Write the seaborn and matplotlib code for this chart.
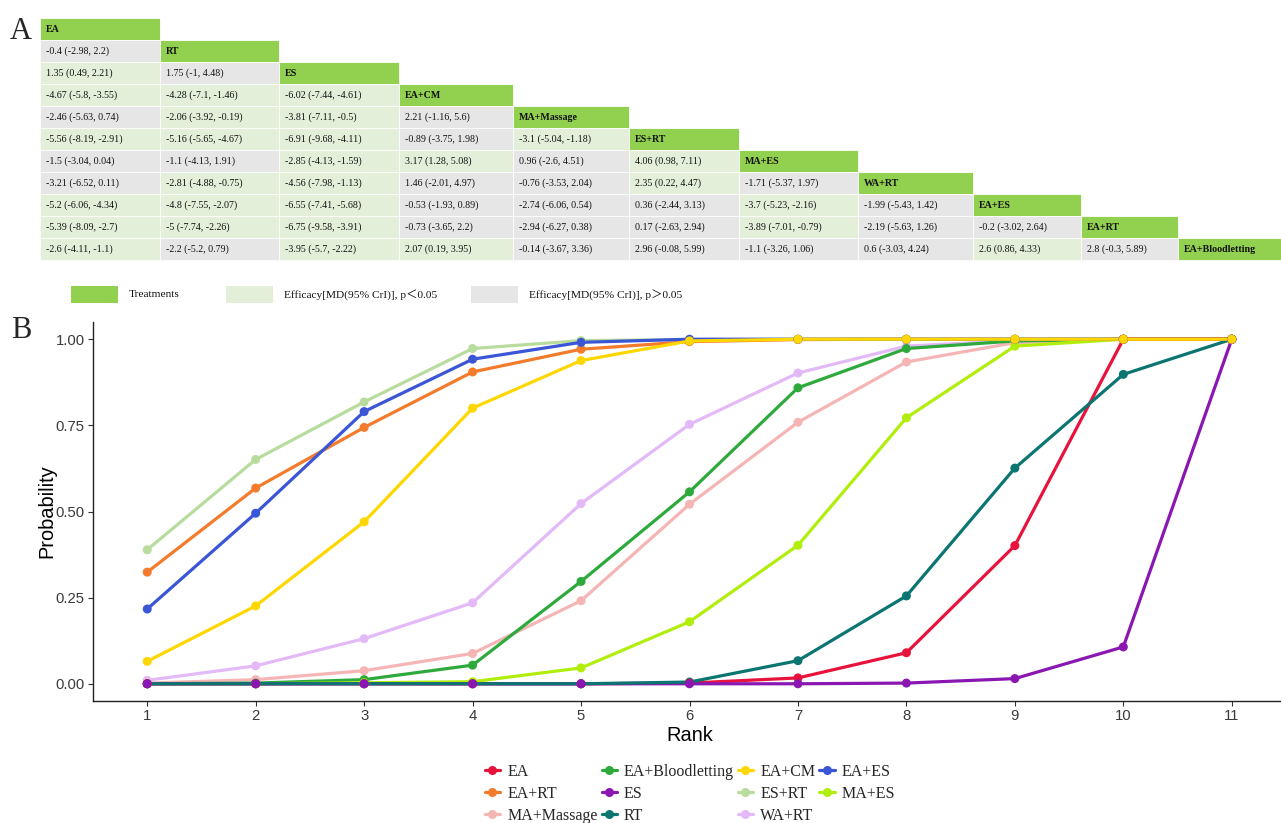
import matplotlib
matplotlib.use("Agg")
import matplotlib.pyplot as plt
from matplotlib.patches import Rectangle
from matplotlib.lines import Line2D
import numpy as np
import pandas as pd
import seaborn as sns

# ---------------- Panel A: league table ----------------
league_treatments = ["EA", "RT", "ES", "EA+CM", "MA+Massage", "ES+RT",
                     "MA+ES", "WA+RT", "EA+ES", "EA+RT", "EA+Bloodletting"]

# mean difference (row vs column), lower triangle
md_est = [
    [],
    [-0.4],
    [1.35, 1.75],
    [-4.67, -4.28, -6.02],
    [-2.46, -2.06, -3.81, 2.21],
    [-5.56, -5.16, -6.91, -0.89, -3.1],
    [-1.5, -1.1, -2.85, 3.17, 0.96, 4.06],
    [-3.21, -2.81, -4.56, 1.46, -0.76, 2.35, -1.71],
    [-5.2, -4.8, -6.55, -0.53, -2.74, 0.36, -3.7, -1.99],
    [-5.39, -5, -6.75, -0.73, -2.94, 0.17, -3.89, -2.19, -0.2],
    [-2.6, -2.2, -3.95, 2.07, -0.14, 2.96, -1.1, 0.6, 2.6, 2.8],
]
md_low = [
    [],
    [-2.98],
    [0.49, -1],
    [-5.8, -7.1, -7.44],
    [-5.63, -3.92, -7.11, -1.16],
    [-8.19, -5.65, -9.68, -3.75, -5.04],
    [-3.04, -4.13, -4.13, 1.28, -2.6, 0.98],
    [-6.52, -4.88, -7.98, -2.01, -3.53, 0.22, -5.37],
    [-6.06, -7.55, -7.41, -1.93, -6.06, -2.44, -5.23, -5.43],
    [-8.09, -7.74, -9.58, -3.65, -6.27, -2.63, -7.01, -5.63, -3.02],
    [-4.11, -5.2, -5.7, 0.19, -3.67, -0.08, -3.26, -3.03, 0.86, -0.3],
]
md_high = [
    [],
    [2.2],
    [2.21, 4.48],
    [-3.55, -1.46, -4.61],
    [0.74, -0.19, -0.5, 5.6],
    [-2.91, -4.67, -4.11, 1.98, -1.18],
    [0.04, 1.91, -1.59, 5.08, 4.51, 7.11],
    [0.11, -0.75, -1.13, 4.97, 2.04, 4.47, 1.97],
    [-4.34, -2.07, -5.68, 0.89, 0.54, 3.13, -2.16, 1.42],
    [-2.7, -2.26, -3.91, 2.2, 0.38, 2.94, -0.79, 1.26, 2.64],
    [-1.1, 0.79, -2.22, 3.95, 3.36, 5.99, 1.06, 4.24, 4.33, 5.89],
]

table_legend_labels = ["Treatments",
                       "Efficacy[MD(95% CrI)], p\uff1c0.05",
                       "Efficacy[MD(95% CrI)], p\uff1e0.05"]

# ---------------- Panel B: cumulative ranking probabilities ----------------
ranks = list(range(1, 12))
rank_prob = {
    "EA":              [0, 0, 0, 0, 0, 0.002, 0.017, 0.090, 0.401, 1.0, 1.0],
    "EA+Bloodletting": [0, 0.002, 0.012, 0.054, 0.297, 0.557, 0.859, 0.973, 0.995, 1.0, 1.0],
    "EA+CM":           [0.065, 0.226, 0.470, 0.800, 0.938, 0.995, 1.0, 1.0, 1.0, 1.0, 1.0],
    "EA+ES":           [0.217, 0.495, 0.790, 0.942, 0.991, 1.0, 1.0, 1.0, 1.0, 1.0, 1.0],
    "EA+RT":           [0.324, 0.568, 0.744, 0.905, 0.971, 0.993, 0.999, 1.0, 1.0, 1.0, 1.0],
    "ES":              [0, 0, 0, 0, 0, 0, 0, 0.002, 0.015, 0.107, 1.0],
    "ES+RT":           [0.389, 0.651, 0.818, 0.973, 0.996, 0.999, 1.0, 1.0, 1.0, 1.0, 1.0],
    "MA+ES":           [0, 0, 0.003, 0.006, 0.046, 0.180, 0.402, 0.772, 0.980, 1.0, 1.0],
    "MA+Massage":      [0.002, 0.012, 0.038, 0.088, 0.241, 0.521, 0.759, 0.934, 0.990, 1.0, 1.0],
    "RT":              [0, 0, 0, 0, 0, 0.005, 0.067, 0.255, 0.626, 0.898, 1.0],
    "WA+RT":           [0.010, 0.052, 0.131, 0.235, 0.523, 0.753, 0.902, 0.980, 0.996, 1.0, 1.0],
}
palette = {
    "EA": "#E8133C", "EA+Bloodletting": "#2EAA3C", "EA+CM": "#FFD700",
    "EA+ES": "#3A56D6", "EA+RT": "#F37B2B", "ES": "#8A17B2",
    "ES+RT": "#B8DC9E", "MA+ES": "#B2EE0C", "MA+Massage": "#F6B5B5",
    "RT": "#0B7572", "WA+RT": "#E3B9F7",
}

# ---------------- figure ----------------
sns.set_theme(style="ticks")
plt.rcParams["font.family"] = ["Liberation Sans", "DejaVu Sans"]
SERIF = ["Liberation Serif", "Noto Sans CJK SC", "DejaVu Serif"]

W, H = 1281, 823
fig = plt.figure(figsize=(W / 100, H / 100), dpi=100)

# pixel-space canvas for the league table
tab = fig.add_axes([0, 0, 1, 1])
tab.set_xlim(0, W)
tab.set_ylim(H, 0)
tab.axis("off")

HEAD = "#92D050"
SIG = "#E3EFD9"
NONSIG = "#E6E6E6"
col_edges = [40, 160, 279, 399, 513, 629, 739, 858, 973, 1081, 1178, 1281]
row_top, row_h = 18, 22

for i, name in enumerate(league_treatments):
    y0 = row_top + i * row_h
    yc = y0 + row_h / 2
    for j in range(i + 1):
        x0, x1 = col_edges[j], col_edges[j + 1]
        if j == i:
            fc = HEAD
            label = name
            weight = "bold"
        else:
            est, lo, hi = md_est[i][j], md_low[i][j], md_high[i][j]
            fc = SIG if lo * hi > 0 else NONSIG
            label = f"{est:g} ({lo:g}, {hi:g})"
            weight = "normal"
        tab.add_patch(Rectangle((x0, y0), x1 - x0, row_h, facecolor=fc,
                                edgecolor="white", linewidth=0.6))
        tab.text(x0 + 6, yc + 0.5, label, ha="left", va="center",
                 fontsize=7.2, family=SERIF, weight=weight, color="#111111")

# table key
key_boxes = [(71, HEAD), (226, SIG), (471, NONSIG)]
for (bx, fc), lab in zip(key_boxes, table_legend_labels):
    tab.add_patch(Rectangle((bx, 286), 47, 17, facecolor=fc, edgecolor="none"))
    tab.text(bx + 58, 294.5, lab, ha="left", va="center", fontsize=8.2,
             family=SERIF, color="#111111")

fig.text(10 / W, 1 - 39 / H, "A", family=SERIF, fontsize=22, ha="left",
         va="baseline")
fig.text(11 / W, 1 - 338 / H, "B", family=SERIF, fontsize=22, ha="left",
         va="baseline")

# ---------------- rank probability panel ----------------
ax = fig.add_axes([93 / W, 1 - 701 / H, 1193 / W, 379 / H])

long_rows = []
for trt, vals in rank_prob.items():
    for r, p in zip(ranks, vals):
        long_rows.append({"Treatment": trt, "Rank": r, "Probability": p})
df = pd.DataFrame(long_rows)

legend_order = sorted(rank_prob.keys())
line_order = ["WA+RT", "ES+RT", "MA+Massage", "EA+Bloodletting", "MA+ES",
              "EA+RT", "EA+ES", "EA", "ES", "RT", "EA+CM"]
point_order = ["WA+RT", "ES+RT", "MA+Massage", "EA+Bloodletting", "MA+ES",
               "EA+RT", "EA+ES", "RT", "EA", "ES", "EA+CM"]

for trt in line_order:
    sub = df[df["Treatment"] == trt]
    sns.lineplot(data=sub, x="Rank", y="Probability", color=palette[trt],
                 linewidth=2.3, estimator=None, sort=False, ax=ax,
                 legend=False, zorder=2)

pts = pd.concat([df[df["Treatment"] == t] for t in point_order])
sns.scatterplot(data=pts, x="Rank", y="Probability", hue="Treatment",
                hue_order=legend_order, palette=palette, s=42, linewidth=0,
                legend=False, ax=ax, zorder=3)

ax.set_xlim(0.5, 11.5)
ax.set_ylim(-0.05, 1.05)
ax.set_xticks(ranks)
ax.set_yticks([0, 0.25, 0.5, 0.75, 1.0])
ax.set_yticklabels(["0.00", "0.25", "0.50", "0.75", "1.00"])
for s in ("top", "right"):
    ax.spines[s].set_visible(False)
for s in ("left", "bottom"):
    ax.spines[s].set_color("#222222")
    ax.spines[s].set_linewidth(1.0)
ax.tick_params(axis="both", length=3.5, width=0.8, color="#333333",
               labelsize=10.7, labelcolor="#3A3A3A", pad=2.5)
ax.set_xlabel("Rank", fontsize=14.4, color="black", labelpad=2)
ax.set_ylabel("Probability", fontsize=14.4, color="black", labelpad=-1)

# legend filled row by row in alphabetical order
ncol = 4
nrow = int(np.ceil(len(legend_order) / ncol))
grid = [legend_order[r * ncol:(r + 1) * ncol] for r in range(nrow)]
col_major = []
for c in range(ncol):
    for r in range(nrow):
        if c < len(grid[r]):
            col_major.append(grid[r][c])
handles = [Line2D([0], [0], color=palette[t], lw=2.3, marker="o",
                  markersize=6.5, markeredgewidth=0) for t in col_major]
fig.legend(handles, col_major, loc="upper center", ncol=ncol,
           bbox_to_anchor=(690 / W, 1 - 764 / H), frameon=False,
           prop={"family": SERIF, "size": 11.5}, handlelength=0.95,
           handletextpad=0.45, columnspacing=0.25, labelspacing=0.37,
           borderpad=0, borderaxespad=0)

fig.savefig("out.png", dpi=100)
